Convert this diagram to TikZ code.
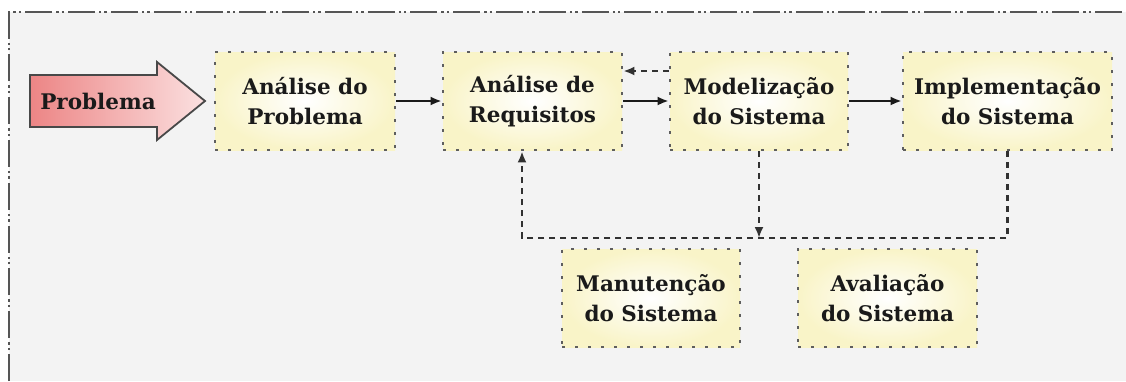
\documentclass[tikz,border=0pt]{standalone}
\usepackage{fontspec}
\setmainfont{DejaVu Serif}
\usetikzlibrary{arrows.meta,calc}

\definecolor{panelgray}{HTML}{F3F3F3}
\definecolor{framegray}{HTML}{555555}
\definecolor{dotgray}{HTML}{5E5E5E}
\definecolor{boxyellow}{HTML}{F9F4C8}
\definecolor{inkdark}{HTML}{1A1A1A}
\definecolor{arrowred}{HTML}{EC8585}
\definecolor{arrowpale}{HTML}{FBE0E0}

\tikzset{
  stage/.style={rectangle, draw=dotgray, line width=2.7pt,
    dash pattern=on 2.7pt off 10.3pt,
    inner color=white, outer color=boxyellow, shading=radial,
    minimum height=98pt, align=center, text=inkdark,
    font=\bfseries\fontsize{21.5}{30}\selectfont},
  flow/.style={draw=inkdark, line width=2.2pt,
    -{Latex[length=11pt,width=9pt]}},
  dashconn/.style={draw=inkdark!90, line width=2.2pt,
    dash pattern=on 6pt off 5pt},
  dashtip/.style={dashconn, -{Latex[length=11pt,width=9pt]}},
}

\begin{document}
\begin{tikzpicture}[x=1pt,y=-1pt]
  \useasboundingbox (0,0) rectangle (1126,381);

  % panel and its dash-dot-dot frame
  \fill[panelgray] (9,12) rectangle (1126,381);
  \draw[framegray, line width=2.4pt,
        dash pattern=on 27pt off 4pt on 2.4pt off 3pt on 2.4pt off 4pt]
        (9,381) -- (9,12) -- (1126,12);

  % input arrow
  \draw[draw=inkdark!80, line width=1.8pt, left color=arrowred, right color=arrowpale]
    (30,75) -- (157,75) -- (157,62) -- (205,101) -- (157,140) -- (157,127)
    -- (30,127) -- cycle;
  \node[text=inkdark, font=\bfseries\fontsize{21.5}{30}\selectfont] (prob) at (98,101) {Problema};

  % process stages
  \node[stage, minimum width=180pt] (b1) at (305,101) {Análise do\\Problema};
  \node[stage, minimum width=179pt] (b2) at (532.5,101) {Análise de\\Requisitos};
  \node[stage, minimum width=178pt] (b3) at (759,101) {Modelização\\do Sistema};
  \node[stage, minimum width=209pt] (b4) at (1007.5,101) {Implementação\\do Sistema};
  \node[stage, minimum width=178pt] (b5) at (651,298) {Manutenção\\do Sistema};
  \node[stage, minimum width=179pt] (b6) at (887.5,298) {Avaliação\\do Sistema};

  % forward flow
  \draw[flow] (b1.east) -- (b2.west);
  \draw[flow] (b2.east) -- (b3.west);
  \draw[flow] (b3.east) -- (b4.west);

  % feedback from modelling to requirements
  \draw[dashtip] ([yshift=30pt]b3.west) -- ([yshift=30pt]b2.east);

  % feedback loop
  \coordinate (loopL) at (522,238);
  \draw[dashtip] (b4.south) |- (loopL) -- (b2.south -| loopL);
  \draw[dashtip] (b3.south) -- (b3.south |- loopL);
\end{tikzpicture}
\end{document}
